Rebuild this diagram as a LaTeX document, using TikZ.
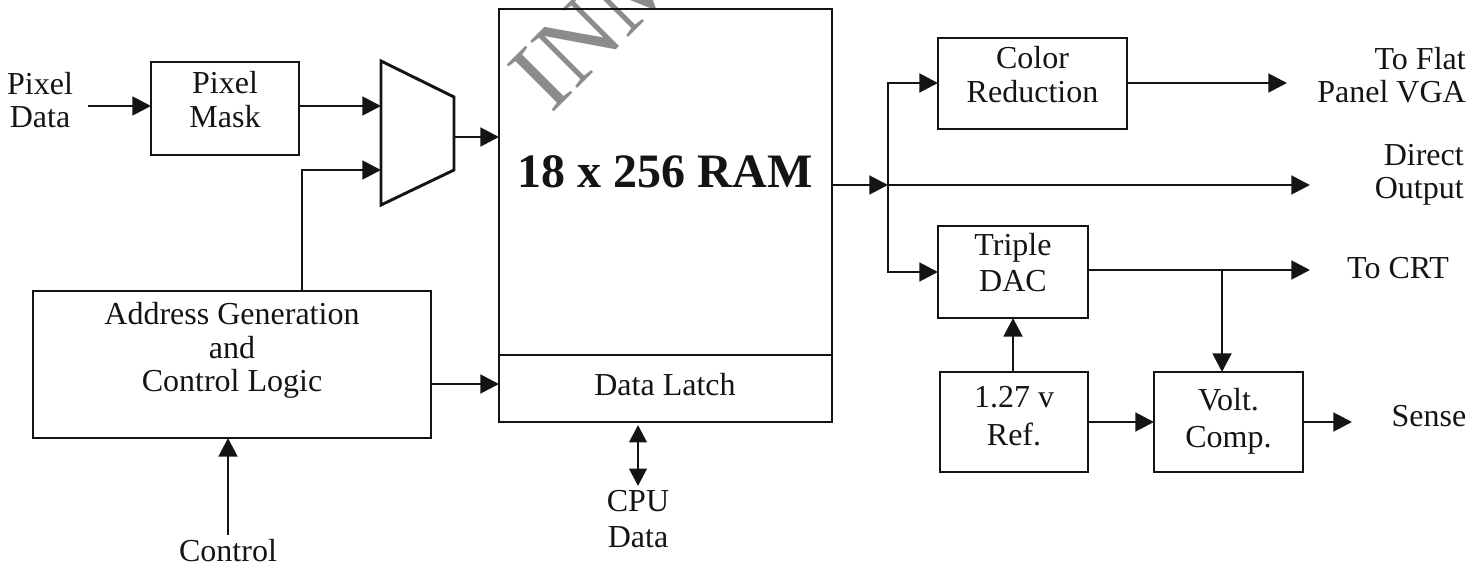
\documentclass[tikz,border=0pt]{standalone}
\usepackage{fontspec}
\setmainfont{Liberation Serif}
\usetikzlibrary{arrows.meta,calc}
\newcommand{\pxbox}[7]{\node[blockbox,minimum width={(#4-#2)*0.75pt},minimum height={(#5-#3)*0.75pt}] (#1) at ({(#2+#4)/2},{(#3+#5)/2}) {};
\node[lbl] (#1txt) at ({(#2+#4)/2},{(#3+#5)/2+#7}) {#6};}
\tikzset{
  every node/.style={font=\fontsize{24}{25}\selectfont},
  blockbox/.style={draw=inkc,line width=2.2pt,inner sep=0pt,outer sep=0pt,align=center},
  lbl/.style={inner sep=0pt,align=center,text=inkc},
  lblr/.style={inner sep=0pt,align=right,text=inkc},
  conn/.style={draw=inkc,line width=2.2pt,-{Triangle[length=14pt,width=14pt]}},
  plain/.style={draw=inkc,line width=2.2pt},
  dbl/.style={draw=inkc,line width=2.2pt,{Triangle[length=13pt,width=13pt]}-{Triangle[length=13pt,width=13pt]}}
}
\definecolor{inkc}{gray}{0.08}
\begin{document}
\begin{tikzpicture}[x=0.75pt,y=-0.75pt]
\useasboundingbox (0,0) rectangle (1481,567);
% watermark
\node[rotate=45,inner sep=0pt,text=black!45,font=\fontsize{76}{76}\selectfont,anchor=base west] (wm) at (551,115) {INM};
% boxes
\pxbox{ram}{499}{9}{832}{422}{}{0}
\pxbox{mask}{151}{62}{299}{155}{Pixel\\Mask}{-9}
\pxbox{addr}{33}{291}{431}{438}{Address Generation\\and\\Control Logic}{-14}
\pxbox{color}{938}{38}{1127}{129}{Color\\Reduction}{-9}
\pxbox{dac}{938}{226}{1088}{318}{Triple\\[2pt]DAC}{-9}
\pxbox{ref}{940}{372}{1088}{472}{1.27 v\\[3pt]Ref.}{-6}
\pxbox{volt}{1154}{372}{1303}{472}{Volt.\\[3pt]Comp.}{-1}
\coordinate (latchL) at (499,355);
\coordinate (latchR) at (832,355);
\draw[plain] (latchL) -- (latchR);
\node[lbl] (ramtxt2) at (665,172) {\fontsize{36}{38}\bfseries\selectfont 18 x 256 RAM};
\node[lbl] (latchtxt) at (665,385) {Data Latch};
% mux
\coordinate (m1) at (381,61);
\coordinate (m2) at (454,97);
\coordinate (m3) at (454,170);
\coordinate (m4) at (381,205);
\draw[plain,line join=miter] (m1) -- (m2) -- (m3) -- (m4) -- cycle;
% labels
\node[lbl] (pixdata) at (40,100) {Pixel\\Data};
\node[lbl] (control) at (228,551) {Control};
\node[lbl] (cpu) at (638,519) {CPU\\[2pt]Data};
\node[lblr,anchor=east] (flat) at (1466,75) {To Flat\\Panel VGA};
\node[lblr,anchor=east] (direct) at (1464,175) {Direct\\Output};
\node[lbl] (crt) at (1398,268) {To CRT};
\node[lbl] (sense) at (1429,416) {Sense};
% free ends and junctions
\coordinate (pixend) at (88,106);
\coordinate (ctlend) at (228,535);
\coordinate (cpuT) at (638,425);
\coordinate (cpuB) at (638,486);
\coordinate (flatend) at (1287,83);
\coordinate (dirend) at (1310,185);
\coordinate (crtend) at (1310,270);
\coordinate (senseend) at (1352,422);
\coordinate (ramout) at (832,185);
\coordinate (jn) at (888,185);
\coordinate (tapc) at (1222,270);
% connectors
\draw[conn] (pixend) -- (pixend -| mask.west);
\draw[conn] (mask.east |- 0,106) -- (381,106);
\draw[conn] (302,291) -- (302,170) -- (381,170);
\draw[conn] (454,137) -- (ram.west |- 0,137);
\draw[conn] (addr.east |- 0,384) -- (ram.west |- 0,384);
\draw[conn] (ctlend) -- (ctlend |- addr.south);
\draw[dbl] (cpuT) -- (cpuB);
\draw[conn] (ramout) -- (jn);
\draw[conn] (jn) -- (dirend);
\draw[conn] (jn) |- (color.west |- 0,83);
\draw[conn] (jn) |- (dac.west |- 0,272);
\draw[conn] (color.east |- flatend) -- (flatend);
\draw[conn] (dac.east |- crtend) -- (crtend);
\draw[conn] (tapc) -- (tapc |- volt.north);
\draw[conn] (1013,372) -- (1013,318);
\draw[conn] (ref.east |- 0,422) -- (volt.west |- 0,422);
\draw[conn] (volt.east |- senseend) -- (senseend);
\end{tikzpicture}
\end{document}
